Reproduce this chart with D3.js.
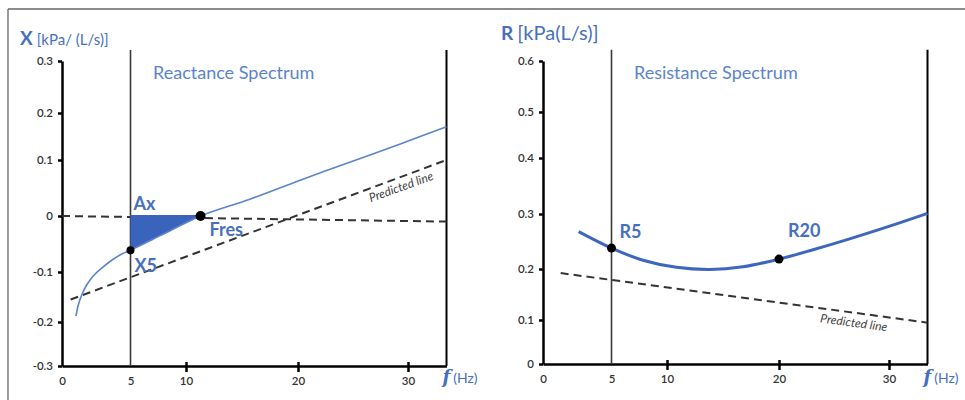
<!DOCTYPE html>
<html>
<head>
<meta charset="utf-8">
<script src="https://cdn.jsdelivr.net/npm/d3@7"></script>
<style>
  body { margin: 0; background: #fff; }
  text { font-family: Lato, "Open Sans", sans-serif; }
</style>
</head>
<body>
<div class="chart"></div>
<script>
// Values: [frequency (Hz), value]
const freqTicks = [0, 5, 10, 20, 30];
const freqMax = 33.5;
const reactanceTicks = [-0.3, -0.2, -0.1, 0, 0.1, 0.2, 0.3];
const resistanceTicks = [0, 0.1, 0.2, 0.3, 0.4, 0.5, 0.6];

const reactance = [
    [1.02, -0.188], [1.19, -0.166], [1.44, -0.146], [1.80, -0.126], [2.28, -0.108],
    [2.90, -0.093], [3.63, -0.079], [4.36, -0.068], [5, -0.061], [8.1, -0.031],
    [11.3, 0], [15.7, 0.030], [20.2, 0.064], [24.7, 0.096], [29.3, 0.134], [33.5, 0.171]
];
const reactanceZero = [[0, 0], [33.5, -0.010]];
const reactancePredicted = [[0.63, -0.155], [33.5, 0.10]];
const x5 = [5, -0.061];
const fres = [11.3, 0];

const resistance = [
    [2.6, 0.268], [5, 0.238], [7.84, 0.216], [10.84, 0.203], [13.81, 0.199], [16.78, 0.204],
    [20, 0.218], [23.09, 0.235], [26.13, 0.253], [29.15, 0.272], [33.5, 0.301]
];
const resistancePredicted = [[1.29, 0.192], [33.5, 0.094]];
const r5 = [5, 0.238];
const r20 = [20, 0.218];

// Layout (the source figure is hand drawn, so its tick spacing is uneven)
const width = 965, height = 400;
const xRange = [62, 130.5, 186, 298, 408, 446.5];
const blue = '#4670bd', lightBlue = '#5b84cc', ink = '#333';

const svg = d3.select('.chart').append('svg')
    .attr('width', width)
    .attr('height', height);

// Frame around the figure
svg.append('line').attr('x1', 8).attr('y1', 9).attr('x2', width).attr('y2', 9)
    .attr('stroke', '#666').attr('stroke-width', 1.3);
svg.append('line').attr('x1', 8).attr('y1', 9).attr('x2', 8).attr('y2', height)
    .attr('stroke', '#666').attr('stroke-width', 1.3);

function drawPanel(p) {
    const x = d3.scaleLinear().domain([...freqTicks, freqMax]).range(xRange.map(v => v + p.dx));
    const y = d3.scaleLinear().domain(p.ticks).range(p.yRange);
    const yMin = p.ticks[0];
    const g = svg.append('g');

    const line = d3.line().x(d => x(d[0])).y(d => y(d[1]));

    // Y axis
    const yAxis = g.append('g').attr('transform', `translate(${x(0)},0)`)
        .call(d3.axisLeft(y).tickValues(p.ticks).tickSize(4).tickSizeOuter(0).tickPadding(5)
            .tickFormat(d => d === 0 ? '0' : d.toFixed(1)));

    // X axis
    const xAxis = g.append('g').attr('transform', `translate(0,${y(yMin)})`)
        .call(d3.axisBottom(x).tickValues(freqTicks).tickSize(6).tickSizeOuter(0).tickPadding(5));
    xAxis.selectAll('.tick line').attr('y1', -4).attr('opacity', d => d >= 10 ? 1 : 0);

    [yAxis, xAxis].forEach(a => {
        a.select('.domain').attr('stroke', '#000').attr('stroke-width', 2.5);
        a.selectAll('.tick line').attr('stroke', '#000').attr('stroke-width', 2.5);
        a.selectAll('.tick text').attr('fill', ink).style('font-size', '11.5px')
            .style('font-weight', 600).style('font-family', 'Lato, sans-serif');
    });

    // Vertical markers at 5 Hz and at the end of the range
    g.append('path').attr('d', line([[5, p.top], [5, yMin]]))
        .attr('stroke', '#3a3a3a').attr('stroke-width', 1.6);
    g.append('path').attr('d', line([[freqMax, p.top], [freqMax, yMin]]))
        .attr('stroke', '#000').attr('stroke-width', 2);

    // Dashed reference lines
    p.dashed.forEach(d => {
        g.append('path').attr('d', line(d))
            .attr('fill', 'none').attr('stroke', '#333').attr('stroke-width', 2)
            .attr('stroke-dasharray', '8,5');
    });

    const smooth = d3.curveCatmullRom.alpha(0.5);
    const curve = d3.line().x(d => x(d[0])).y(d => y(d[1])).curve(smooth);

    if (p.area) {
        const area = d3.area().x(d => x(d[0])).y0(y(0)).y1(d => y(d[1])).curve(smooth);
        g.append('path').attr('d', area(p.series.filter(d => d[0] >= p.area[0] && d[0] <= p.area[1])))
            .attr('fill', '#3a64bb');
        g.append('path').attr('d', line([[p.area[0], 0], [p.area[1], 0]]))
            .attr('stroke', '#3a64bb').attr('stroke-width', 2);
    }

    g.append('path').attr('d', curve(p.series))
        .attr('fill', 'none').attr('stroke', p.curveColor).attr('stroke-width', p.curveWidth);

    // Marked points and their labels
    p.points.forEach(pt => {
        g.append('circle').attr('cx', x(pt.d[0])).attr('cy', y(pt.d[1])).attr('r', pt.r).attr('fill', '#000');
        g.append('text').attr('x', x(pt.d[0]) + pt.dx).attr('y', y(pt.d[1]) + pt.dy)
            .attr('fill', blue).style('font-size', '18px').style('font-weight', 700).text(pt.label);
    });

    // Predicted line label
    const pl = p.predictedLabel;
    g.append('text')
        .attr('transform', `translate(${x(pl.f)},${y(pl.v)}) rotate(${pl.angle})`)
        .attr('text-anchor', 'middle').attr('dy', '0.35em')
        .attr('fill', '#444').style('font-size', '12px').style('font-style', 'italic')
        .text('Predicted line');

    // Axis titles
    const t = g.append('text').attr('x', x(0) - 42).attr('y', p.titleY).attr('fill', blue);
    t.append('tspan').style('font-size', '19px').style('font-weight', 700).text(p.symbol);
    t.append('tspan').attr('dx', 4).style('font-size', p.unitSize).text(p.unit);

    g.append('text').attr('x', x(5) + 22.5).attr('y', 79).attr('fill', lightBlue)
        .style('font-size', '18px').text(p.name);

    const f = g.append('text').attr('x', x(freqMax) - 4).attr('y', 383).attr('fill', blue);
    f.append('tspan').style('font-size', '18px').style('font-weight', 700).style('font-style', 'italic')
        .style('font-family', '"DejaVu Serif", serif').text('f');
    f.append('tspan').attr('dx', 3).style('font-size', '14px').text('(Hz)');
}

drawPanel({
    dx: 0,
    ticks: reactanceTicks,
    yRange: [366, 322, 272, 216, 160, 113, 61],
    top: 0.321,
    series: reactance,
    curveColor: lightBlue,
    curveWidth: 1.6,
    area: [5, 11.3],
    dashed: [reactanceZero, reactancePredicted],
    points: [
        { d: [5, 0], r: 0, dx: 3, dy: -6, label: 'Ax' },
        { d: x5, r: 4, dx: 4, dy: 22, label: 'X5' },
        { d: fres, r: 5, dx: 9, dy: 20, label: 'Fres' }
    ],
    predictedLabel: { f: 29.36, v: 0.052, angle: -20 },
    titleY: 45,
    symbol: 'X',
    unit: '[kPa/ (L/s)]',
    unitSize: '15px',
    name: 'Reactance Spectrum'
});

drawPanel({
    dx: 481,
    ticks: resistanceTicks,
    yRange: [364, 320, 269, 214, 158, 112, 61],
    top: 0.622,
    series: resistance,
    curveColor: '#3d67bf',
    curveWidth: 3,
    area: null,
    dashed: [resistancePredicted],
    points: [
        { d: r5, r: 4.5, dx: 8, dy: -10, label: 'R5' },
        { d: r20, r: 4.5, dx: 9, dy: -22, label: 'R20' }
    ],
    predictedLabel: { f: 26.8, v: 0.094, angle: 7.6 },
    titleY: 40,
    symbol: 'R',
    unit: '[kPa(L/s)]',
    unitSize: '20px',
    name: 'Resistance Spectrum'
});
</script>
</body>
</html>
